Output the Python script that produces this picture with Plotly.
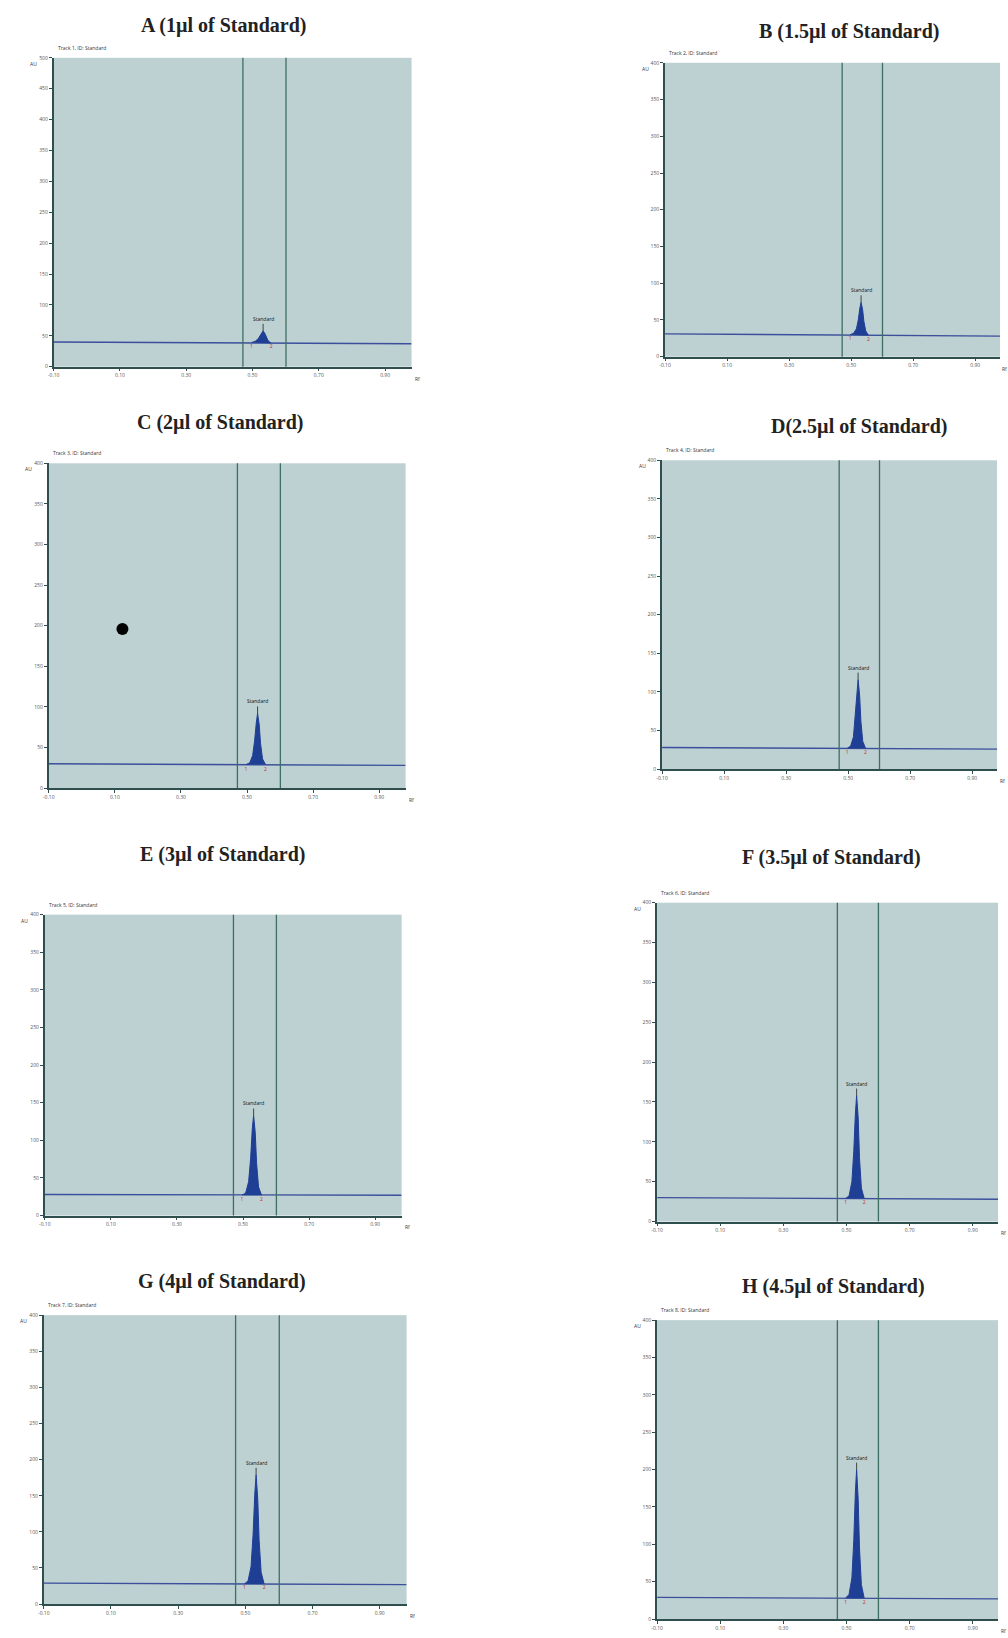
import plotly.graph_objects as go

W, H = 1008, 1638

# ---------------- data ----------------
panel_ids = ["A", "B", "C", "D", "E", "F", "G", "H"]
panel_titles = ["A (1µl of Standard)", "B (1.5µl of Standard)", "C (2µl of Standard)",
                "D(2.5µl of Standard)", "E (3µl of Standard)", "F (3.5µl of Standard)",
                "G (4µl of Standard)", "H (4.5µl of Standard)"]
track_labels = ["Track 1, ID: Standard", "Track 2, ID: Standard", "Track 3, ID: Standard",
                "Track 4, ID: Standard", "Track 5, ID: Standard", "Track 6, ID: Standard",
                "Track 7, ID: Standard", "Track 8, ID: Standard"]
y_max = [500, 400, 400, 400, 400, 400, 400, 400]
y_step = 50
x_range = [-0.10, 0.98]
x_ticks = [-0.10, 0.10, 0.30, 0.50, 0.70, 0.90]
x_tick_labels = ["-0.10", "0.10", "0.30", "0.50", "0.70", "0.90"]

# baseline (AU) at the left and right end of each track
baseline_left = [40, 31, 30, 28, 28, 30, 29, 29]
baseline_right = [37, 28, 28, 26, 27, 28, 27, 27]

# integration window (vertical lines, Rf)
window_start = 0.471
window_end = 0.601

# peak profile Rf positions and AU values
peak_rf = [0.497, 0.508, 0.517, 0.523, 0.528, 0.532, 0.537, 0.541, 0.547, 0.556]
peak_au = {
    "A": [39, 41, 45, 50, 55, 58, 54, 48, 42, 38],
    "B": [30, 32, 38, 50, 66, 74, 64, 48, 35, 29],
    "C": [29, 31, 40, 58, 80, 92, 78, 55, 36, 29],
    "D": [27, 30, 42, 68, 100, 116, 95, 62, 36, 27],
    "E": [27, 30, 45, 76, 115, 133, 110, 70, 38, 27],
    "F": [29, 32, 50, 88, 135, 158, 130, 80, 42, 29],
    "G": [28, 32, 52, 96, 152, 179, 145, 88, 44, 28],
    "H": [28, 33, 55, 105, 170, 200, 160, 95, 46, 28],
}
peak_name = "Standard"

# stray dot in panel C (Rf, AU)
dot_rf = [0.123]
dot_au = [196]

# ---------------- layout geometry (pixels: left, top, right, bottom) ----------------
boxes = [(48, 55, 408, 365), (663, 60, 1000, 355),
         (43, 462, 402, 788), (660, 459, 997, 769),
         (39, 915, 398, 1217), (655, 903, 998, 1223),
         (38, 1317, 403, 1607), (655, 1322, 998, 1622)]
title_pos = [(219, 23), (848, 29), (216, 421), (859, 425),
             (218, 855), (830, 858), (217, 1283), (832, 1288)]

BG = "#bdd0d2"
AXIS = "#2f4f4f"
VLINE = "#3f6f62"
BASE = "#3b4f9c"
PEAK = "#1f3f95"

def px(x):
    return x / W

def py(y):
    return 1 - y / H

fig = go.Figure()
layout = dict(width=W, height=H, margin=dict(l=0, r=0, t=0, b=0),
              paper_bgcolor="white", plot_bgcolor=BG, showlegend=False)
annotations = []
shapes = []

for i, pid in enumerate(panel_ids):
    n = "" if i == 0 else str(i + 1)
    xa, ya = "x" + n, "y" + n
    l, t, r, b = boxes[i]
    layout["xaxis" + n] = dict(domain=[px(l), px(r)], anchor=ya, range=x_range,
                               tickvals=x_ticks, ticktext=x_tick_labels, ticks="outside",
                               ticklen=3, tickcolor=AXIS, tickfont=dict(size=5, color="#555"),
                               showgrid=False, zeroline=False, showline=True,
                               linecolor=AXIS, linewidth=1.5, fixedrange=True)
    yt = list(range(0, y_max[i] + 1, y_step))
    layout["yaxis" + n] = dict(domain=[py(b), py(t)], anchor=xa, range=[0, y_max[i]],
                               tickvals=yt, ticks="outside", ticklen=3, tickcolor=AXIS,
                               tickfont=dict(size=5, color="#555"),
                               showgrid=False, zeroline=False, showline=True,
                               linecolor=AXIS, linewidth=1.8, fixedrange=True)
    # baseline trace
    fig.add_trace(go.Scatter(x=[x_range[0], x_range[1]],
                             y=[baseline_left[i], baseline_right[i]],
                             mode="lines", line=dict(color=BASE, width=1.4),
                             xaxis=xa, yaxis=ya, hoverinfo="skip"))
    # peak
    fig.add_trace(go.Scatter(x=peak_rf, y=peak_au[pid], mode="lines", fill="toself",
                             fillcolor=PEAK, line=dict(color=PEAK, width=1),
                             xaxis=xa, yaxis=ya))
    # window lines
    for xv in (window_start, window_end):
        shapes.append(dict(type="line", xref=xa, yref="paper",
                           x0=xv, x1=xv, y0=py(b), y1=py(t),
                           line=dict(color=VLINE, width=1.3)))
    # peak start/end markers
    fig.add_trace(go.Scatter(x=[peak_rf[0], peak_rf[-1]],
                             y=[peak_au[pid][0] - 6, peak_au[pid][-1] - 6],
                             mode="text", text=["1", "2"],
                             textfont=dict(size=5, color="#c03030"),
                             xaxis=xa, yaxis=ya, hoverinfo="skip"))
    apex = max(peak_au[pid])
    annotations.append(dict(x=peak_rf[peak_au[pid].index(apex)], y=apex, xref=xa, yref=ya,
                            text=peak_name, showarrow=True, arrowhead=0, arrowwidth=0.8,
                            arrowcolor="#222", ax=0, ay=-7, yanchor="bottom",
                            font=dict(size=5, color="#111")))
    # titles and small texts
    tx, ty = title_pos[i]
    annotations.append(dict(x=px(tx), y=py(ty), xref="paper", yref="paper",
                            text="<b>" + panel_titles[i] + "</b>", showarrow=False,
                            xanchor="center", yanchor="middle",
                            font=dict(family="Liberation Serif, Times New Roman, serif",
                                      size=20, color="#222")))
    annotations.append(dict(x=px(l + 2), y=py(t - 10), xref="paper", yref="paper",
                            text=track_labels[i], showarrow=False, xanchor="left",
                            yanchor="middle", font=dict(size=5, color="#333")))
    annotations.append(dict(x=px(l - 20), y=py(t + 6), xref="paper", yref="paper",
                            text="AU", showarrow=False, xanchor="center", yanchor="middle",
                            font=dict(size=5, color="#333")))
    annotations.append(dict(x=px(min(r + 1, W - 8)), y=py(b + 12), xref="paper", yref="paper",
                            text="Rf", showarrow=False, xanchor="left", yanchor="middle",
                            font=dict(size=5, color="#333")))

# stray dot in panel C
fig.add_trace(go.Scatter(x=dot_rf, y=dot_au, mode="markers",
                         marker=dict(color="black", size=12), xaxis="x3", yaxis="y3"))

layout["annotations"] = annotations
layout["shapes"] = shapes
fig.update_layout(**layout)
fig.write_html("out.html")
